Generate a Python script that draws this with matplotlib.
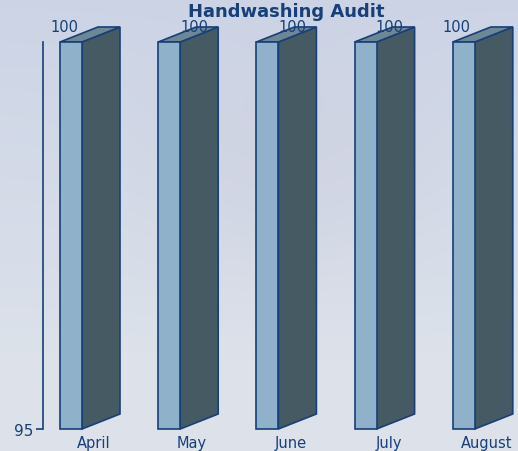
import numpy as np
import matplotlib.pyplot as plt
from matplotlib.patches import Polygon, Rectangle

months = ["April", "May", "June", "July", "August"]
scores = [100, 100, 100, 100, 100]
label_shift = [-0.07, 0.26, 0.26, 0.24, -0.07]  # where each value label sits, relative to the bar

y_min, y_max = 95, 100
bar_w = 0.224
depth_x = 0.387
depth_y = 0.194

navy = "#173f78"
front_c = "#8fb1c9"
side_c = "#465a63"
top_c = "#6e8796"

fig = plt.figure(figsize=(5.18, 4.52), dpi=100)

# soft blue-grey backdrop with a faint lavender patch in the middle
bg = fig.add_axes([0, 0, 1, 1], zorder=0)
yy, xx = np.mgrid[0:1:200j, 0:1:200j]
base = np.array([0.80, 0.83, 0.90])
low = np.array([0.87, 0.89, 0.92])
t = np.clip(yy * 1.15, 0, 1)[..., None]
img = base * (1 - t) + low * t
blob = np.exp(-(((xx - 0.55) / 0.3) ** 2 + ((yy - 0.35) / 0.25) ** 2))[..., None]
img = img * (1 - 0.35 * blob) + np.array([0.79, 0.79, 0.86]) * 0.35 * blob
bg.imshow(img, aspect="auto", extent=[0, 1, 1, 0])
bg.axis("off")

ax = fig.add_axes([43 / 518, 22 / 452, 475 / 518, 387 / 452], zorder=1)
ax.patch.set_alpha(0)
ax.set_xlim(-0.285, 4.552)
ax.set_ylim(y_min, y_max)

for i, v in enumerate(scores):
    x0 = i - bar_w / 2
    x1 = i + bar_w / 2
    ax.add_patch(Polygon([(x1, y_min), (x1 + depth_x, y_min + depth_y),
                          (x1 + depth_x, v + depth_y), (x1, v)],
                         closed=True, fc=side_c, ec=navy, lw=1.2, clip_on=False))
    ax.add_patch(Polygon([(x0, v), (x1, v), (x1 + depth_x, v + depth_y),
                          (x0 + depth_x, v + depth_y)],
                         closed=True, fc=top_c, ec=navy, lw=1.2, clip_on=False))
    ax.add_patch(Rectangle((x0, y_min), bar_w, v - y_min,
                           fc=front_c, ec=navy, lw=1.2, clip_on=False))
    ax.text(i + label_shift[i], v + depth_y + 0.0, str(v), ha="center", va="center",
            fontsize=10.5, color=navy, family="DejaVu Sans", clip_on=False)

for s in ["top", "right", "bottom"]:
    ax.spines[s].set_visible(False)
ax.spines["left"].set_color(navy)
ax.spines["left"].set_linewidth(1.2)

ax.set_yticks([95])
ax.set_yticklabels(["95"], fontsize=11, color=navy, family="DejaVu Sans")
ax.tick_params(axis="y", colors=navy, length=5, width=1.2, pad=2)

ax.set_xticks([i + depth_x / 2 + 0.04 for i in range(len(months))])
ax.set_xticklabels(months, fontsize=10.5, color=navy, family="DejaVu Sans")
ax.tick_params(axis="x", length=0, pad=4)

fig.text(0.552, 0.973, "Handwashing Audit", ha="center", va="center",
         fontsize=13, fontweight="bold", color=navy, family="DejaVu Sans")

fig.savefig("out.png", dpi=100)
